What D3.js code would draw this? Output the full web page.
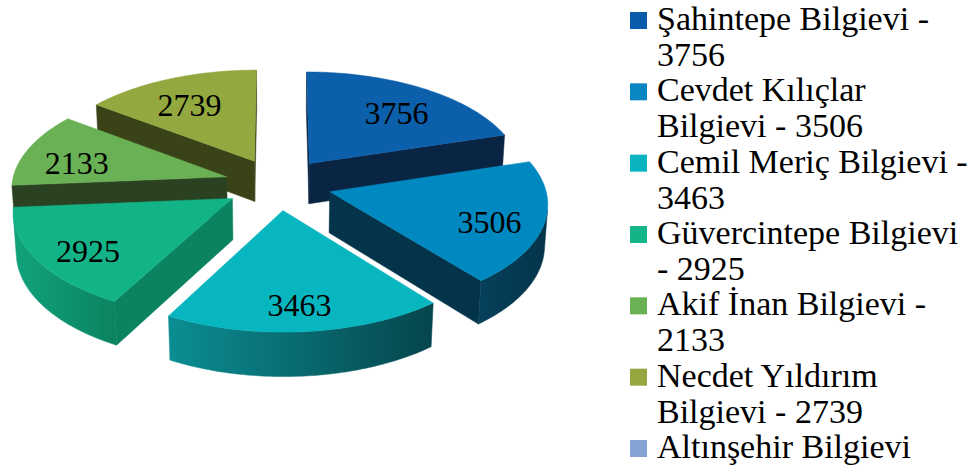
<!DOCTYPE html>
<html>
<head>
<meta charset="utf-8">
<script src="https://cdn.jsdelivr.net/npm/d3@7"></script>
<style>
  body { margin: 0; background: #fff; }
  svg { display: block; }
</style>
</head>
<body>
<svg id="chart" width="973" height="470"></svg>
<script>
/* 3D exploded pie of visitors per Bilgievi, legend on the right.
   The pie is drawn by projecting d3.pie angles through a small perspective camera. */

const categories = ["Şahintepe Bilgievi", "Cevdet Kılıçlar Bilgievi", "Cemil Meriç Bilgievi",
                    "Güvercintepe Bilgievi", "Akif İnan Bilgievi", "Necdet Yıldırım Bilgievi",
                    "Altınşehir Bilgievi"];
const values = [3756, 3506, 3463, 2925, 2133, 2739, null];   // Altınşehir has no value on the pie

// colours: top face, wall (light end), wall (dark end), legend swatch
const topColors   = ["#0c5fab", "#0089c1", "#08b6c0", "#12b487", "#6ab155", "#93a83e", "#84a2d4"];
const wallLight   = ["#0b2a4c", "#06405a", "#0b8e93", "#11a27c", "#2f4a26", "#3d4619", "#5a74a0"];
const wallDark    = ["#0a2444", "#04344a", "#05454c", "#0b8360", "#2a4221", "#3a4218", "#4a6490"];
const legendColors = ["#0b5bab", "#0a86c2", "#09b3bf", "#13b488", "#6ab153", "#95a840", "#84a2d4"];

const FONT = "'Liberation Serif', 'DejaVu Serif', 'Times New Roman', serif";

// camera / pie geometry (world radius = 1)
const view = { cx: 278, cy: 184, elev: 29 * Math.PI / 180, dist: 9, focal: 1934,
               depth: 0.22, explode: 0.25, labelR: 1.0 };
const cosE = Math.cos(view.elev), sinE = Math.sin(view.elev);
const camera = [0, view.dist * cosE, view.dist * sinE];

// x right, y toward viewer, z up -> screen
function project(x, y, z){
  const d = view.dist - (y * cosE + z * sinE);
  return [view.cx + view.focal * x / d, view.cy + view.focal * (y * sinE - z * cosE) / d];
}
function facing(p, n){   // is a face with normal n through point p turned to the camera?
  return (camera[0] - p[0]) * n[0] + (camera[1] - p[1]) * n[1] + (camera[2] - p[2]) * n[2] > 0;
}

const svg = d3.select("#chart");
const defs = svg.append("defs");
const line = d3.line();

const data = categories.map((name, i) => ({ name, value: values[i], i }));
const slices = d3.pie().sort(null).value(d => d.value)(data.filter(d => d.value != null));

slices.forEach(s => {
  s.mid = (s.startAngle + s.endAngle) / 2;
  s.ox = view.explode * Math.sin(s.mid);
  s.oy = -view.explode * Math.cos(s.mid);
});

// painter's order: farthest slice first
const order = slices.slice().sort((a, b) => a.oy - b.oy);
const pieG = svg.append("g");
const zTop = 0, zBot = -view.depth;

order.forEach(s => {
  const i = s.data.i;
  const g = pieG.append("g");
  const pt = (a, z) => project(s.ox + Math.sin(a), s.oy - Math.cos(a), z);
  const apex = z => project(s.ox, s.oy, z);
  const steps = d3.range(0, 91).map(k => s.startAngle + (s.endAngle - s.startAngle) * k / 90);

  // radial cut faces
  [[s.startAngle, s.startAngle - Math.PI / 2], [s.endAngle, s.endAngle + Math.PI / 2]].forEach(([a, na]) => {
    const p = [s.ox + 0.5 * Math.sin(a), s.oy - 0.5 * Math.cos(a), zBot / 2];
    if (!facing(p, [Math.sin(na), -Math.cos(na), 0])) return;
    g.append("path")
      .attr("d", line([apex(zTop), pt(a, zTop), pt(a, zBot), apex(zBot)]) + "Z")
      .attr("fill", wallDark[i]).attr("stroke", wallDark[i]).attr("stroke-width", 0.5);
  });

  // outer curved wall, only the part that faces the camera
  const vis = steps.filter(a => facing([s.ox + Math.sin(a), s.oy - Math.cos(a), zBot / 2],
                                       [Math.sin(a), -Math.cos(a), 0]));
  if (vis.length > 1){
    const pts = vis.map(a => pt(a, zTop)).concat(vis.slice().reverse().map(a => pt(a, zBot)));
    const xs = d3.extent(pts, p => p[0]);
    const gid = "wall" + i;
    const grad = defs.append("linearGradient").attr("id", gid)
      .attr("gradientUnits", "userSpaceOnUse")
      .attr("x1", xs[0]).attr("x2", xs[1]).attr("y1", 0).attr("y2", 0);
    grad.append("stop").attr("offset", 0).attr("stop-color", wallLight[i]);
    grad.append("stop").attr("offset", 1).attr("stop-color", wallDark[i]);
    g.append("path").attr("d", line(pts) + "Z")
      .attr("fill", `url(#${gid})`).attr("stroke", `url(#${gid})`).attr("stroke-width", 0.5);
  }

  // top face
  g.append("path")
    .attr("d", line([apex(zTop)].concat(steps.map(a => pt(a, zTop)))) + "Z")
    .attr("fill", topColors[i]).attr("stroke", topColors[i]).attr("stroke-width", 0.5);
});

// value labels on the top faces
slices.forEach(s => {
  const [x, y] = project(view.labelR * Math.sin(s.mid), -view.labelR * Math.cos(s.mid), zTop);
  svg.append("text").attr("x", x).attr("y", y).attr("dy", "0.55em")
    .attr("text-anchor", "middle").attr("font-family", FONT).attr("fill", "#000")
    .attr("font-size", 32).text(s.data.value);
});

// legend
const legendY = d3.scaleLinear().domain([0, categories.length - 1]).range([30, 458]);
const legend = svg.append("g").attr("transform", "translate(630,0)");
const maxW = 316, lineH = 36;

data.forEach(d => {
  const y = legendY(d.i);
  legend.append("rect").attr("x", 0).attr("y", y - 18).attr("width", 17).attr("height", 17)
    .attr("fill", legendColors[d.i]);
  const label = d.value != null ? `${d.name} - ${d.value}` : d.name;
  const text = legend.append("text").attr("x", 27).attr("y", y)
    .attr("font-family", FONT).attr("font-size", 34).attr("fill", "#000");
  // simple word wrap
  const words = label.split(" ");
  let cur = [], tspan = text.append("tspan").attr("x", 27).attr("y", y), row = 0;
  words.forEach(w => {
    cur.push(w);
    tspan.text(cur.join(" "));
    if (tspan.node().getComputedTextLength() > maxW && cur.length > 1){
      cur.pop();
      tspan.text(cur.join(" "));
      cur = [w];
      row++;
      tspan = text.append("tspan").attr("x", 27).attr("y", y + row * lineH).text(w);
    }
  });
});
</script>
</body>
</html>
